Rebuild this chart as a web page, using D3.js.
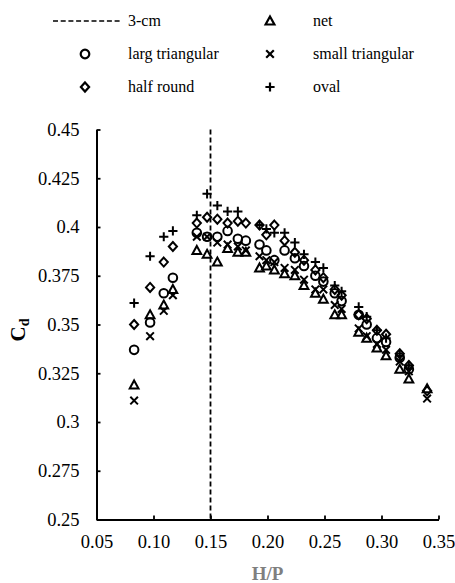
<!DOCTYPE html>
<html>
<head>
<meta charset="utf-8">
<script src="https://cdn.jsdelivr.net/npm/d3@7"></script>
<style>
  body { margin: 0; background: #fff; }
</style>
</head>
<body>
<div id="chart"></div>
<script>
// H/P values for each series
const hpNet   = [0.083, 0.097, 0.109, 0.117, 0.138, 0.147, 0.156, 0.165, 0.174, 0.181, 0.193, 0.199, 0.206, 0.215, 0.224, 0.232, 0.242, 0.249, 0.259, 0.265, 0.280, 0.287, 0.296, 0.304, 0.316, 0.324, 0.340];
const cdNet   = [0.319, 0.355, 0.360, 0.368, 0.388, 0.386, 0.382, 0.389, 0.387, 0.387, 0.379, 0.380, 0.378, 0.376, 0.375, 0.370, 0.366, 0.363, 0.355, 0.355, 0.346, 0.343, 0.338, 0.334, 0.327, 0.322, 0.317];

const hpSmall = [0.083, 0.097, 0.109, 0.117, 0.138, 0.147, 0.156, 0.165, 0.174, 0.181, 0.193, 0.199, 0.206, 0.215, 0.224, 0.232, 0.242, 0.249, 0.259, 0.265, 0.280, 0.287, 0.296, 0.304, 0.316, 0.324, 0.340];
const cdSmall = [0.311, 0.344, 0.357, 0.365, 0.395, 0.395, 0.392, 0.391, 0.390, 0.388, 0.385, 0.383, 0.382, 0.379, 0.378, 0.373, 0.368, 0.368, 0.360, 0.358, 0.348, 0.344, 0.340, 0.337, 0.331, 0.326, 0.312];

const hpLarg  = [0.083, 0.097, 0.109, 0.117, 0.138, 0.147, 0.156, 0.165, 0.174, 0.181, 0.193, 0.199, 0.206, 0.215, 0.224, 0.232, 0.242, 0.249, 0.259, 0.265, 0.280, 0.287, 0.296, 0.304, 0.316, 0.324];
const cdLarg  = [0.337, 0.351, 0.366, 0.374, 0.397, 0.395, 0.395, 0.398, 0.394, 0.393, 0.391, 0.388, 0.383, 0.388, 0.384, 0.380, 0.375, 0.372, 0.366, 0.362, 0.355, 0.350, 0.343, 0.341, 0.333, 0.327];

const hpHalf  = [0.083, 0.097, 0.109, 0.117, 0.138, 0.147, 0.156, 0.165, 0.174, 0.181, 0.193, 0.199, 0.206, 0.215, 0.224, 0.232, 0.242, 0.249, 0.259, 0.265, 0.280, 0.287, 0.296, 0.304, 0.316, 0.324, 0.340];
const cdHalf  = [0.350, 0.369, 0.382, 0.390, 0.402, 0.405, 0.404, 0.402, 0.403, 0.402, 0.401, 0.396, 0.401, 0.393, 0.387, 0.383, 0.378, 0.374, 0.368, 0.365, 0.355, 0.353, 0.347, 0.345, 0.335, 0.329, 0.316];

const hpOval  = [0.083, 0.097, 0.109, 0.117, 0.138, 0.147, 0.156, 0.165, 0.174, 0.193, 0.199, 0.206, 0.215, 0.224, 0.232, 0.242, 0.249, 0.259, 0.265, 0.280, 0.287, 0.296, 0.304, 0.316, 0.324];
const cdOval  = [0.361, 0.385, 0.395, 0.398, 0.406, 0.417, 0.411, 0.408, 0.408, 0.401, 0.399, 0.397, 0.397, 0.392, 0.386, 0.382, 0.379, 0.370, 0.367, 0.359, 0.354, 0.347, 0.343, 0.334, 0.329];

const lineX = 0.15;   // 3-cm
const xTicks = [0.05, 0.10, 0.15, 0.20, 0.25, 0.30, 0.35];
const yTicks = [0.25, 0.275, 0.3, 0.325, 0.35, 0.375, 0.4, 0.425, 0.45];

const width = 455, height = 583;
const serif = '"Liberation Serif", "Times New Roman", serif';

const svg = d3.select('#chart').append('svg')
  .attr('width', width)
  .attr('height', height)
  .attr('font-family', serif);

const x = d3.scaleLinear().domain([0.05, 0.35]).range([96.5, 438.5]);
const y = d3.scaleLinear().domain([0.25, 0.45]).range([519.5, 129.5]);

// marker shapes
const shapes = {
  circle: g => g.append('circle').attr('r', 4.3).attr('fill', 'none'),
  triangle: g => g.append('path').attr('d', 'M0,-4.5L4.4,3.5L-4.4,3.5Z').attr('fill', 'none'),
  diamond: g => g.append('path').attr('d', 'M0,-4.5L4.1,0L0,4.5L-4.1,0Z').attr('fill', 'none'),
  times: g => g.append('path').attr('d', 'M-3.8,-3.8L3.8,3.8M-3.8,3.8L3.8,-3.8'),
  plus: g => g.append('path').attr('d', 'M-4.6,0L4.6,0M0,-4.6L0,4.6')
};

const series = [
  { name: 'net', hp: hpNet, cd: cdNet, shape: 'triangle' },
  { name: 'small triangular', hp: hpSmall, cd: cdSmall, shape: 'times' },
  { name: 'larg triangular', hp: hpLarg, cd: cdLarg, shape: 'circle' },
  { name: 'half round', hp: hpHalf, cd: cdHalf, shape: 'diamond' },
  { name: 'oval', hp: hpOval, cd: cdOval, shape: 'plus' }
];

// dashed 3-cm line
svg.append('line')
  .attr('x1', x(lineX)).attr('x2', x(lineX))
  .attr('y1', y(0.45)).attr('y2', y(0.25))
  .attr('stroke', '#000')
  .attr('stroke-width', 1.8)
  .attr('stroke-dasharray', '5,3');

// points
series.forEach(s => {
  const g = svg.append('g').attr('class', 'series');
  s.hp.forEach((v, i) => {
    const m = g.append('g')
      .attr('transform', `translate(${x(v)},${y(s.cd[i])})`)
      .attr('stroke', '#000')
      .attr('stroke-width', 2);
    shapes[s.shape](m);
  });
});

// axes
const xAxis = svg.append('g')
  .attr('transform', `translate(0,${y(0.25)})`)
  .call(d3.axisBottom(x).tickValues(xTicks).tickFormat(d3.format('.2f'))
    .tickSize(-4).tickSizeOuter(0).tickPadding(15));

const yAxis = svg.append('g')
  .attr('transform', `translate(${x(0.05)},0)`)
  .call(d3.axisLeft(y).tickValues(yTicks).tickFormat(d => d3.format('')(+d.toFixed(3)))
    .tickSize(-4).tickSizeOuter(0).tickPadding(17));

[xAxis, yAxis].forEach(a => {
  a.attr('font-family', serif);
  a.select('.domain').attr('stroke', '#000').attr('stroke-width', 2);
  a.selectAll('.tick line').attr('stroke', '#000').attr('stroke-width', 1.8);
  a.selectAll('.tick text')
    .attr('fill', '#000')
    .attr('font-family', serif)
    .attr('font-size', '18.5px');
});

// axis titles
svg.append('text')
  .attr('x', (x(0.05) + x(0.35)) / 2)
  .attr('y', 580)
  .attr('text-anchor', 'middle')
  .attr('fill', '#7f7f7f')
  .attr('font-weight', 'bold')
  .attr('font-size', '19px')
  .text('H/P');

const yt = svg.append('text')
  .attr('transform', `translate(25,330) rotate(-90)`)
  .attr('text-anchor', 'middle')
  .attr('font-weight', 'bold')
  .attr('font-size', '21px');
yt.append('tspan').text('C');
yt.append('tspan').attr('font-size', '14px').attr('dy', 4).text('d');

// legend
const legend = svg.append('g').attr('class', 'legend')
  .attr('font-family', serif).attr('font-size', '16px');
const rowY = [21, 54, 87];

legend.append('line')
  .attr('x1', 53).attr('x2', 122)
  .attr('y1', rowY[0]).attr('y2', rowY[0])
  .attr('stroke', '#000').attr('stroke-width', 1.6)
  .attr('stroke-dasharray', '5,2.7');
legend.append('text').attr('x', 128).attr('y', rowY[0] + 5).text('3-cm');

const legendItems = [
  { s: series[0], col: 1, row: 0 },
  { s: series[2], col: 0, row: 1 },
  { s: series[1], col: 1, row: 1 },
  { s: series[3], col: 0, row: 2 },
  { s: series[4], col: 1, row: 2 }
];
const colMarkX = [85, 270], colTextX = [128, 313];

legendItems.forEach(it => {
  const m = legend.append('g')
    .attr('transform', `translate(${colMarkX[it.col]},${rowY[it.row]})`)
    .attr('stroke', '#000').attr('stroke-width', 2.2);
  shapes[it.s.shape](m);
  legend.append('text')
    .attr('x', colTextX[it.col])
    .attr('y', rowY[it.row] + 5)
    .text(it.s.name);
});
</script>
</body>
</html>
